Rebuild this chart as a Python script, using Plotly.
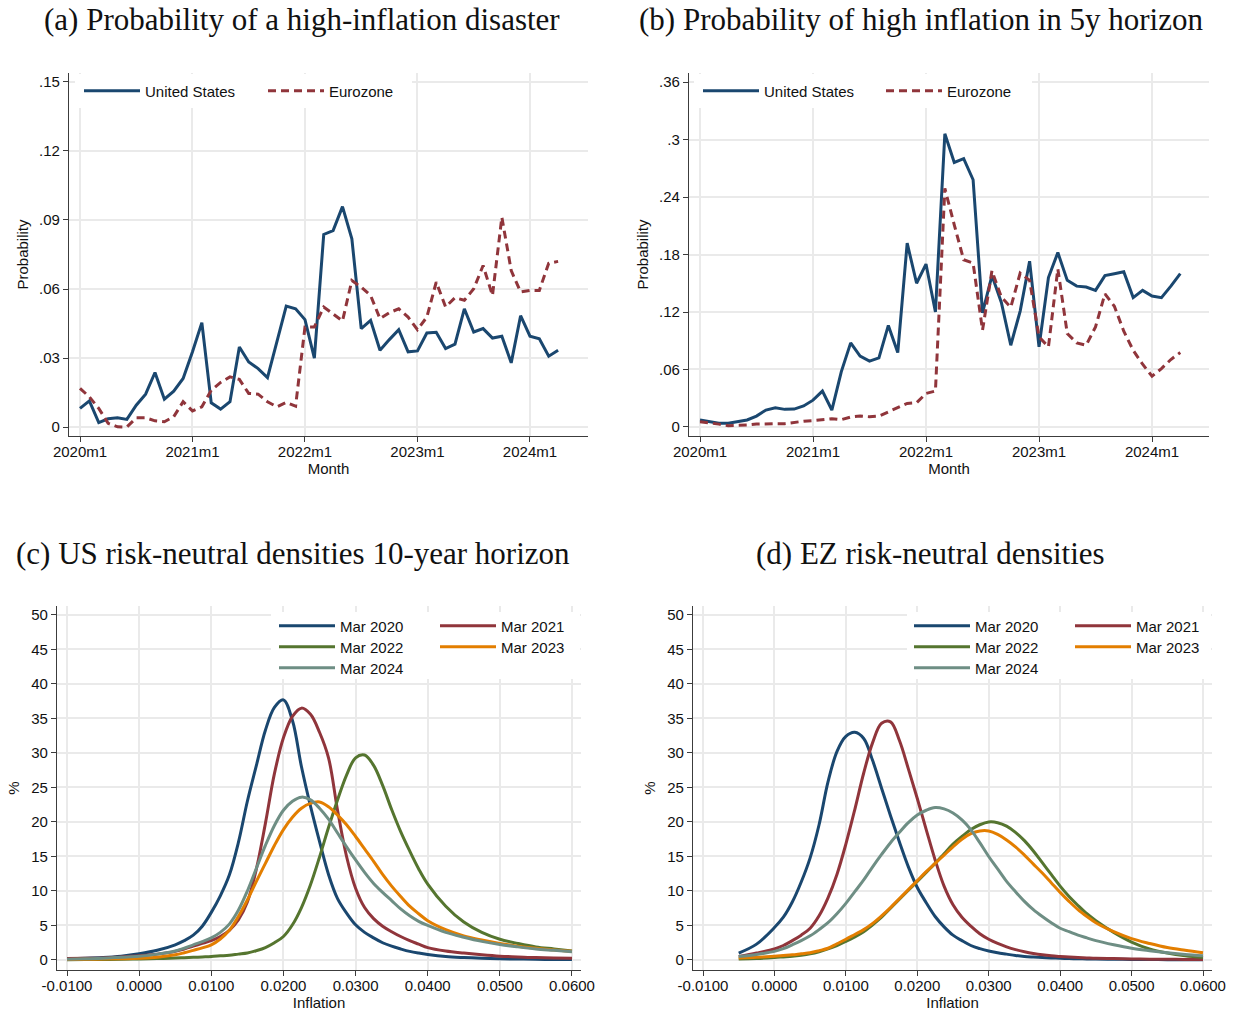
import plotly.graph_objects as go

# ---------------- data ----------------
years = [2020, 2021, 2022, 2023, 2024]
months = [f"{y}m{m}" for y in years for m in range(1, 13)][:52]   # 2020m1 .. 2024m4
month_ticks = ["2020m1", "2021m1", "2022m1", "2023m1", "2024m1"]

disaster_us = [0.0081, 0.0114, 0.0019, 0.0036, 0.0040, 0.0033, 0.0095, 0.0143, 0.0237, 0.0121,
               0.0156, 0.0211, 0.0327, 0.0454, 0.0105, 0.0078, 0.0110, 0.0348, 0.0283, 0.0254,
               0.0215, 0.0370, 0.0526, 0.0514, 0.0467, 0.0300, 0.0837, 0.0854, 0.0958, 0.0818,
               0.0428, 0.0464, 0.0334, 0.0380, 0.0423, 0.0327, 0.0331, 0.0409, 0.0412, 0.0341,
               0.0360, 0.0514, 0.0413, 0.0428, 0.0387, 0.0395, 0.0279, 0.0484, 0.0395, 0.0384,
               0.0308, 0.0334]
disaster_ez = [0.0168, 0.0131, 0.0081, 0.0016, 0.0001, 0.0000, 0.0040, 0.0040, 0.0027, 0.0023,
               0.0045, 0.0110, 0.0070, 0.0088, 0.0160, 0.0194, 0.0218, 0.0207, 0.0146, 0.0143,
               0.0110, 0.0088, 0.0107, 0.0091, 0.0435, 0.0435, 0.0522, 0.0490, 0.0461, 0.0637,
               0.0608, 0.0572, 0.0471, 0.0497, 0.0514, 0.0478, 0.0423, 0.0478, 0.0630, 0.0522,
               0.0562, 0.0551, 0.0601, 0.0702, 0.0572, 0.0912, 0.0680, 0.0587, 0.0594, 0.0594,
               0.0712, 0.0720]
prob5y_us = [0.0073, 0.0055, 0.0040, 0.0040, 0.0060, 0.0073, 0.0114, 0.0177, 0.0200, 0.0184,
             0.0187, 0.0220, 0.0280, 0.0375, 0.0177, 0.0576, 0.0878, 0.0739, 0.0687, 0.0721,
             0.1060, 0.0777, 0.1918, 0.1500, 0.1700, 0.1200, 0.3060, 0.2760, 0.2800, 0.2580,
             0.1190, 0.1580, 0.1300, 0.0853, 0.1210, 0.1730, 0.0836, 0.1560, 0.1820, 0.1530,
             0.1470, 0.1460, 0.1426, 0.1580, 0.1600, 0.1620, 0.1350, 0.1426, 0.1367, 0.1350,
             0.1470, 0.1600]
prob5y_ez = [0.0055, 0.0045, 0.0030, 0.0014, 0.0014, 0.0020, 0.0030, 0.0035, 0.0035, 0.0035,
             0.0050, 0.0060, 0.0066, 0.0073, 0.0087, 0.0076, 0.0104, 0.0114, 0.0107, 0.0114,
             0.0160, 0.0200, 0.0246, 0.0253, 0.0350, 0.0375, 0.2490, 0.2110, 0.1745, 0.1710,
             0.1010, 0.1630, 0.1356, 0.1250, 0.1606, 0.1530, 0.0940, 0.0836, 0.1650, 0.0975,
             0.0878, 0.0853, 0.1044, 0.1390, 0.1260, 0.1000, 0.0800, 0.0655, 0.0530, 0.0610,
             0.0704, 0.0777]

# risk-neutral densities: US grid -1% .. 6%
infl_us = [-0.0100, -0.0075, -0.0050, -0.0025, 0.0000, 0.0025,
           0.0050, 0.00625, 0.0075, 0.00875, 0.0100, 0.01125, 0.0125, 0.01375, 0.0150, 0.01625,
           0.0175, 0.01875, 0.0200, 0.02125, 0.0225, 0.02375, 0.0250, 0.02625, 0.0275, 0.02875,
           0.0300, 0.03125, 0.0325, 0.03375, 0.0350, 0.03625, 0.0375, 0.03875, 0.0400,
           0.0425, 0.0450, 0.0475, 0.0500, 0.0525, 0.0550, 0.0575, 0.0600]
us_mar2020 = [0.2, 0.25, 0.35, 0.55, 0.9, 1.4,
              2.2, 2.8, 3.6, 4.9, 6.9, 9.3, 12.3, 17.0, 23.0, 28.2, 33.3, 36.6, 37.7, 34.7,
              28.0, 22.3, 17.2, 12.4, 8.9, 6.8, 5.1, 4.0, 3.2, 2.5, 2.0, 1.6, 1.25, 1.0, 0.8,
              0.5, 0.35, 0.25, 0.18, 0.14, 0.1, 0.08, 0.06]
us_mar2021 = [0.2, 0.25, 0.3, 0.45, 0.6, 0.85,
              1.25, 1.6, 2.0, 2.4, 2.8, 3.4, 4.3, 5.8, 8.4, 13.2, 19.8, 27.0, 32.2, 35.3,
              36.5, 35.6, 33.0, 29.3, 21.7, 15.0, 10.4, 7.6, 6.0, 4.9, 4.1, 3.4, 2.8, 2.3, 1.8,
              1.3, 1.0, 0.75, 0.55, 0.45, 0.35, 0.3, 0.25]
us_mar2022 = [0.05, 0.06, 0.08, 0.1, 0.15, 0.2,
              0.28, 0.33, 0.38, 0.44, 0.5, 0.6, 0.7, 0.85, 1.0, 1.35, 1.8, 2.5, 3.4, 5.1,
              7.6, 10.9, 14.9, 19.2, 23.2, 26.8, 29.3, 29.7, 28.2, 25.3, 21.8, 18.6, 15.8, 13.2, 11.0,
              7.8, 5.5, 4.0, 3.0, 2.4, 1.9, 1.6, 1.3]
us_mar2023 = [0.08, 0.1, 0.13, 0.18, 0.25, 0.4,
              0.75, 1.05, 1.4, 1.75, 2.2, 3.05, 4.3, 6.3, 8.7, 11.4, 14.0, 16.6, 18.9, 20.7,
              22.0, 22.7, 22.9, 22.2, 21.0, 19.6, 17.9, 16.1, 14.3, 12.4, 10.7, 9.2, 7.8, 6.7, 5.7,
              4.4, 3.5, 2.9, 2.4, 2.0, 1.7, 1.45, 1.25]
us_mar2024 = [0.12, 0.18, 0.25, 0.4, 0.55, 0.85,
              1.3, 1.7, 2.2, 2.65, 3.2, 4.0, 5.2, 7.2, 10.0, 13.3, 16.6, 19.5, 21.7, 23.0,
              23.6, 23.2, 22.0, 20.4, 18.4, 16.4, 14.5, 12.7, 11.1, 9.8, 8.6, 7.4, 6.4, 5.6, 5.0,
              4.0, 3.3, 2.7, 2.25, 1.9, 1.6, 1.4, 1.2]

# EZ grid -0.5% .. 6%
infl_ez = [-0.0050, -0.0025,
           0.0000, 0.00125, 0.0025, 0.00375, 0.0050, 0.00625, 0.0075, 0.00875, 0.0100, 0.01125,
           0.0125, 0.01375, 0.0150, 0.01625, 0.0175, 0.01875, 0.0200, 0.02125, 0.0225, 0.02375,
           0.0250, 0.02625, 0.0275, 0.02875, 0.0300, 0.03125, 0.0325, 0.03375, 0.0350, 0.03625,
           0.0375, 0.03875, 0.0400, 0.04125, 0.0425, 0.04375, 0.0450,
           0.0475, 0.0500, 0.0525, 0.0550, 0.0575, 0.0600]
ez_mar2020 = [1.0, 2.3,
              4.7, 6.2, 8.4, 11.3, 14.8, 19.6, 25.8, 30.2, 32.4, 33.0, 32.1, 28.9, 24.9, 20.9,
              17.1, 13.5, 10.5, 8.3, 6.3, 4.8, 3.6, 2.8, 2.1, 1.65, 1.3, 1.05, 0.85, 0.65, 0.5,
              0.42, 0.35, 0.3, 0.25, 0.21, 0.18, 0.15, 0.13,
              0.1, 0.08, 0.06, 0.05, 0.04, 0.03]
ez_mar2021 = [0.5, 1.0,
              1.6, 2.1, 2.8, 3.6, 4.6, 6.4, 9.0, 12.4, 16.8, 21.8, 27.1, 31.5, 34.3, 34.5,
              31.8, 27.7, 23.4, 18.9, 14.5, 10.7, 8.0, 6.2, 4.9, 3.8, 3.0, 2.4, 1.9, 1.5, 1.2,
              0.95, 0.75, 0.6, 0.5, 0.42, 0.35, 0.3, 0.25,
              0.2, 0.15, 0.12, 0.1, 0.08, 0.07]
ez_mar2022 = [0.15, 0.2,
              0.35, 0.45, 0.55, 0.7, 0.9, 1.2, 1.6, 2.1, 2.7, 3.35, 4.1, 5.1, 6.2, 7.5,
              8.8, 10.1, 11.4, 12.7, 14.0, 15.4, 16.8, 17.9, 18.9, 19.6, 20.0, 19.9, 19.4, 18.5, 17.3,
              15.8, 14.1, 12.4, 10.7, 9.2, 7.9, 6.7, 5.7,
              4.0, 2.6, 1.6, 1.0, 0.6, 0.35]
ez_mar2023 = [0.3, 0.4,
              0.55, 0.65, 0.75, 0.9, 1.05, 1.35, 1.7, 2.35, 3.0, 3.7, 4.4, 5.3, 6.4, 7.6,
              8.9, 10.2, 11.5, 12.8, 14.0, 15.2, 16.4, 17.5, 18.3, 18.7, 18.7, 18.2, 17.4, 16.4, 15.2,
              13.9, 12.6, 11.2, 9.8, 8.5, 7.3, 6.3, 5.4,
              4.1, 3.1, 2.4, 1.8, 1.4, 1.05]
ez_mar2024 = [0.5, 0.8,
              1.25, 1.65, 2.2, 2.8, 3.5, 4.4, 5.4, 6.7, 8.2, 9.9, 11.6, 13.5, 15.3, 17.0,
              18.5, 19.9, 21.0, 21.7, 22.1, 21.9, 21.3, 20.3, 18.9, 17.0, 15.0, 13.2, 11.4, 9.9, 8.5,
              7.3, 6.3, 5.4, 4.6, 4.1, 3.6, 3.2, 2.8,
              2.2, 1.7, 1.35, 1.05, 0.8, 0.6]

density_labels = ["Mar 2020", "Mar 2021", "Mar 2022", "Mar 2023", "Mar 2024"]
infl_ticks = [-0.01, 0.0, 0.01, 0.02, 0.03, 0.04, 0.05, 0.06]
infl_tick_text = ["-0.0100", "0.0000", "0.0100", "0.0200", "0.0300", "0.0400", "0.0500", "0.0600"]
pct_ticks = [0, 5, 10, 15, 20, 25, 30, 35, 40, 45, 50]
prob_a_ticks = [0, 0.03, 0.06, 0.09, 0.12, 0.15]
prob_a_text = ["0", ".03", ".06", ".09", ".12", ".15"]
prob_b_ticks = [0, 0.06, 0.12, 0.18, 0.24, 0.30, 0.36]
prob_b_text = ["0", ".06", ".12", ".18", ".24", ".3", ".36"]

# ---------------- style ----------------
W, H = 1241, 1015
NAVY, MAROON, GREEN, ORANGE, TEAL = "#1A476F", "#90353B", "#55752F", "#E37E00", "#6E8E84"
dens_colors = [NAVY, MAROON, GREEN, ORANGE, TEAL]
SANS = "Liberation Sans, Arial, Helvetica, sans-serif"
SERIF = "Liberation Serif, Times New Roman, serif"
FS = 15
GRID = "#EAEAEA"
AX = "#3C3C3C"


def px_x(p):
    return p / W


def px_y(p):
    return 1 - p / H


fig = go.Figure()

# panel (a)
fig.add_trace(go.Scatter(x=months, y=disaster_us, mode="lines", name="United States",
                         line=dict(color=NAVY, width=3), xaxis="x", yaxis="y", legend="legend"))
fig.add_trace(go.Scatter(x=months, y=disaster_ez, mode="lines", name="Eurozone",
                         line=dict(color=MAROON, width=3, dash="8px,5px"), xaxis="x", yaxis="y",
                         legend="legend"))
# panel (b)
fig.add_trace(go.Scatter(x=months, y=prob5y_us, mode="lines", name="United States",
                         line=dict(color=NAVY, width=3), xaxis="x2", yaxis="y2", legend="legend2"))
fig.add_trace(go.Scatter(x=months, y=prob5y_ez, mode="lines", name="Eurozone",
                         line=dict(color=MAROON, width=3, dash="8px,5px"), xaxis="x2", yaxis="y2",
                         legend="legend2"))

# panels (c) and (d)
us_curves = [us_mar2020, us_mar2021, us_mar2022, us_mar2023, us_mar2024]
ez_curves = [ez_mar2020, ez_mar2021, ez_mar2022, ez_mar2023, ez_mar2024]
row_legend_c = ["legend3", "legend3", "legend4", "legend4", "legend5"]
row_legend_d = ["legend6", "legend6", "legend7", "legend7", "legend8"]
for i, (lab, col) in enumerate(zip(density_labels, dens_colors)):
    fig.add_trace(go.Scatter(x=infl_us, y=us_curves[i], mode="lines", name=lab,
                             line=dict(color=col, width=3, shape="spline", smoothing=1.0),
                             xaxis="x3", yaxis="y3", legend=row_legend_c[i]))
for i, (lab, col) in enumerate(zip(density_labels, dens_colors)):
    fig.add_trace(go.Scatter(x=infl_ez, y=ez_curves[i], mode="lines", name=lab,
                             line=dict(color=col, width=3, shape="spline", smoothing=1.0),
                             xaxis="x4", yaxis="y4", legend=row_legend_d[i]))

# ---------------- axes ----------------
common = dict(showline=True, linecolor=AX, linewidth=1.3, ticks="outside", ticklen=5,
              tickcolor=AX, tickwidth=1.3, showgrid=True, gridcolor=GRID, gridwidth=1.5,
              zeroline=False, tickfont=dict(family=SANS, size=FS, color="#111"),
              mirror=False, automargin=False)
title_font = dict(family=SANS, size=FS, color="#111")


def ax(dom, anchor, rng, **kw):
    d = dict(common)
    d.update(domain=dom, anchor=anchor, range=rng)
    d.update(kw)
    return d


ya_dom_top = [px_y(436), px_y(73)]
ya_dom_bot = [px_y(970), px_y(606)]

fig.update_layout(
    xaxis=ax([px_x(69), px_x(588)], "y", [-1.173, 54.19], type="category",
             tickmode="array", tickvals=month_ticks, ticktext=month_ticks, ticklabelstandoff=-3,
             title=dict(text="Month", font=title_font, standoff=1)),
    yaxis=ax(ya_dom_top, "x", [-0.0039, 0.1539], tickmode="array", tickvals=prob_a_ticks,
             ticktext=prob_a_text, title=dict(text="Probability", font=title_font, standoff=6)),
    xaxis2=ax([px_x(689), px_x(1209)], "y2", [-1.168, 54.05], type="category",
              tickmode="array", tickvals=month_ticks, ticktext=month_ticks, ticklabelstandoff=-3,
              title=dict(text="Month", font=title_font, standoff=1)),
    yaxis2=ax(ya_dom_top, "x2", [-0.0094, 0.3694], tickmode="array", tickvals=prob_b_ticks,
              ticktext=prob_b_text, title=dict(text="Probability", font=title_font, standoff=6)),
    xaxis3=ax([px_x(57), px_x(581)], "y3", [-0.01139, 0.06125], tickmode="array",
              tickvals=infl_ticks, ticktext=infl_tick_text, ticklabelstandoff=-3,
              title=dict(text="Inflation", font=title_font, standoff=1)),
    yaxis3=ax(ya_dom_bot, "x3", [-1.45, 51.3], tickmode="array", tickvals=pct_ticks,
              title=dict(text="%", font=title_font, standoff=7)),
    xaxis4=ax([px_x(693), px_x(1212)], "y4", [-0.0114, 0.06126], tickmode="array",
              tickvals=infl_ticks, ticktext=infl_tick_text, ticklabelstandoff=-3,
              title=dict(text="Inflation", font=title_font, standoff=1)),
    yaxis4=ax(ya_dom_bot, "x4", [-1.45, 51.3], tickmode="array", tickvals=pct_ticks,
              title=dict(text="%", font=title_font, standoff=7)),
)


# ---------------- legends ----------------
def leg(x_px, y_px, entry_w):
    return dict(orientation="h", x=px_x(x_px), y=px_y(y_px), xanchor="left",
                yanchor="middle", bgcolor="rgba(0,0,0,0)", borderwidth=0,
                font=dict(family=SANS, size=FS, color="#111"), itemwidth=56,
                entrywidth=entry_w, entrywidthmode="pixels", tracegroupgap=0,
                itemclick=False, itemdoubleclick=False)


fig.update_layout(
    legend=leg(79, 91, 113),
    legend2=leg(698, 91, 112),
    legend3=leg(274, 626, 90),
    legend4=leg(274, 647, 90),
    legend5=leg(274, 668, 90),
    legend6=leg(909, 626, 90),
    legend7=leg(909, 647, 90),
    legend8=leg(909, 668, 90),
)

# white boxes behind legends (they hide the gridlines, as in the original)
boxes = [(75, 74, 412, 108), (694, 74, 1032, 108), (271, 612, 580, 679), (907, 612, 1211, 679)]
for (x0, y0, x1, y1) in boxes:
    fig.add_shape(type="rect", xref="paper", yref="paper", x0=px_x(x0), x1=px_x(x1),
                  y0=px_y(y1), y1=px_y(y0), fillcolor="white", line=dict(width=0),
                  layer="above")

# ---------------- panel titles ----------------
titles = [("(a) Probability of a high-inflation disaster", 302, 20),
          ("(b) Probability of high inflation in 5y horizon", 921, 20),
          ("(c) US risk-neutral densities 10-year horizon", 293, 553),
          ("(d) EZ risk-neutral densities", 930, 553)]
for txt, cx, cy in titles:
    fig.add_annotation(text=txt, x=px_x(cx), y=px_y(cy), xref="paper", yref="paper",
                       xanchor="center", yanchor="middle", showarrow=False,
                       font=dict(family=SERIF, size=31, color="#111"))

fig.update_layout(width=W, height=H, margin=dict(l=0, r=0, t=0, b=0),
                  paper_bgcolor="white", plot_bgcolor="white", showlegend=True)

fig.write_html("out.html")
